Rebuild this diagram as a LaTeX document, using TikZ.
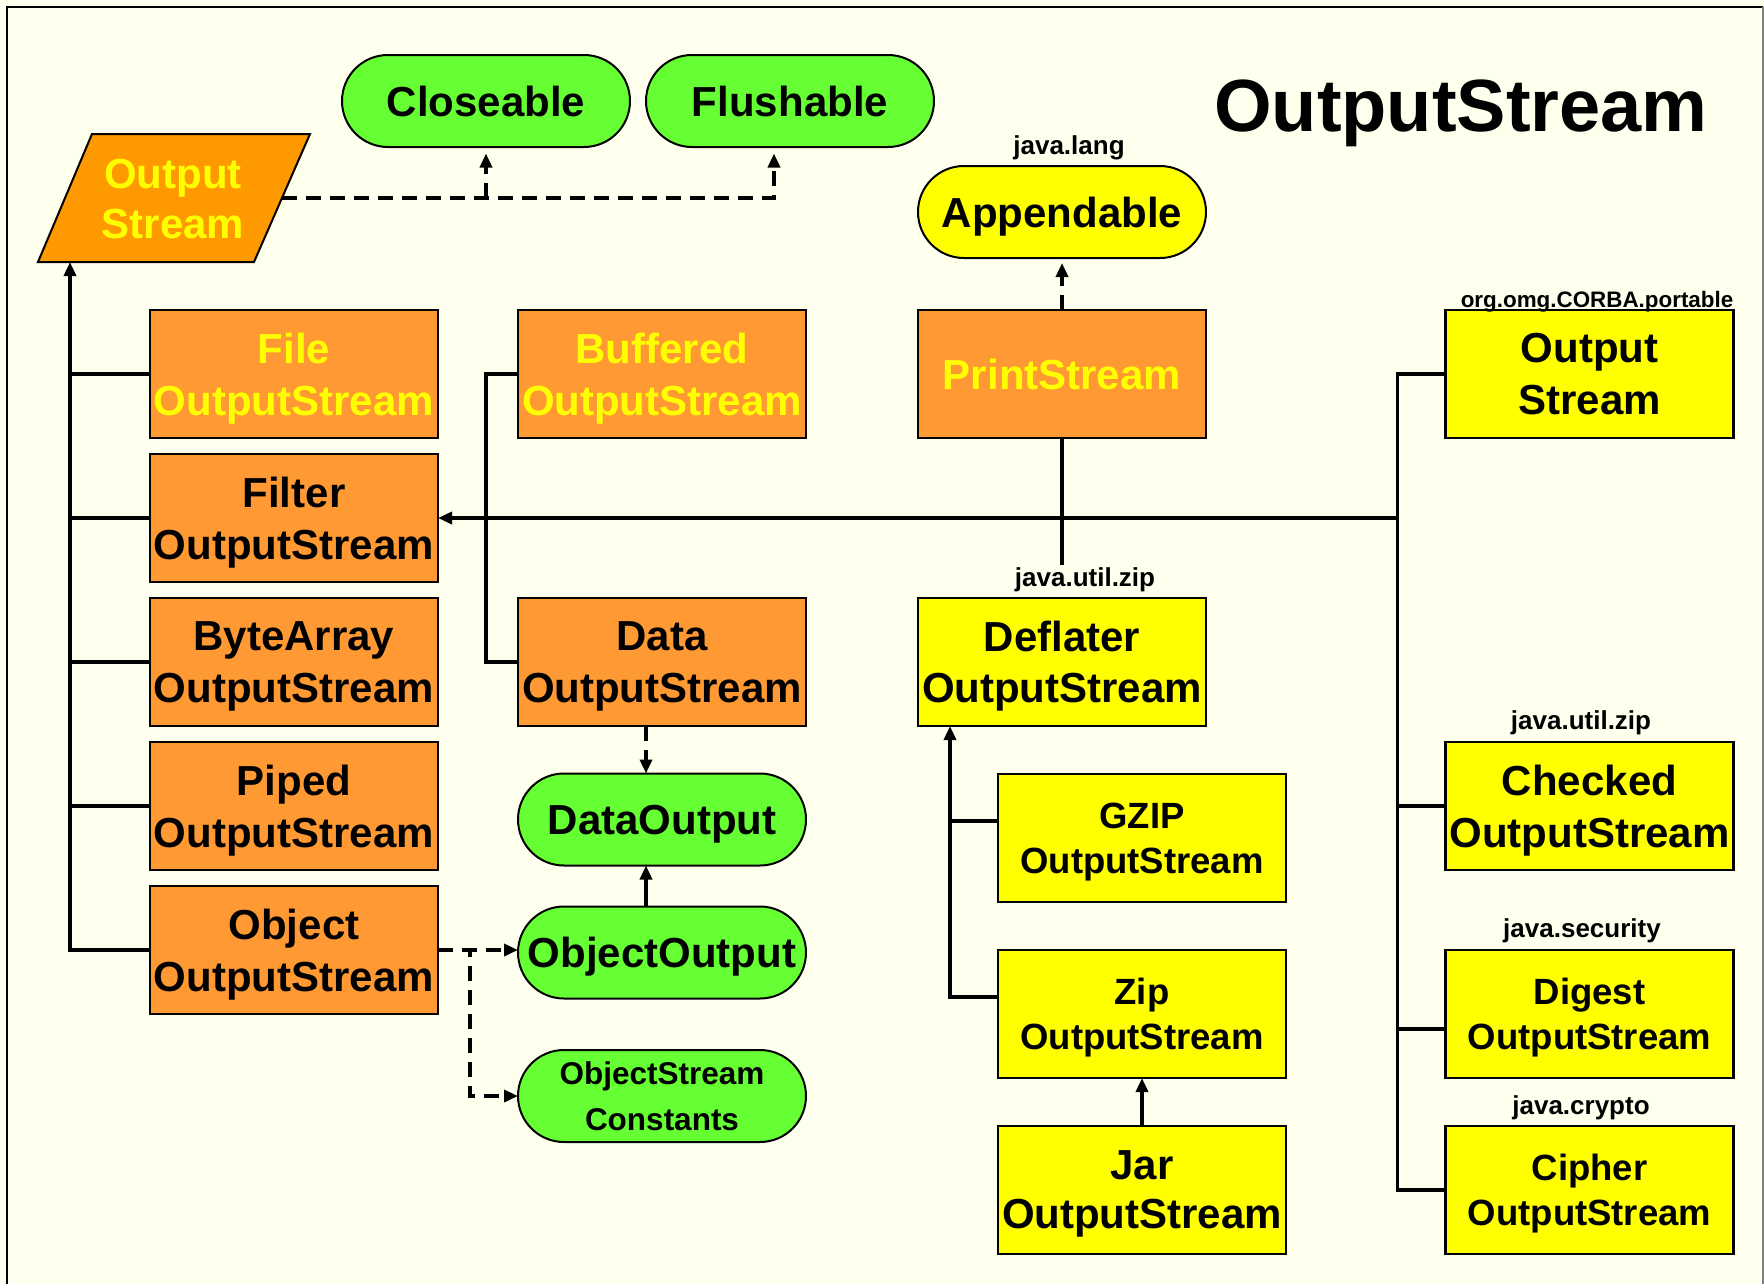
\documentclass[tikz,border=0pt]{standalone}
\usepackage{fontspec}
\setmainfont{Liberation Sans}
\usetikzlibrary{arrows.meta,calc}

\definecolor{bgcream}{RGB}{255,255,238}
\definecolor{ifgreen}{RGB}{102,255,51}
\definecolor{basefill}{RGB}{255,153,0}
\definecolor{orangefill}{RGB}{255,153,51}
\definecolor{yellowfill}{RGB}{255,255,0}

\tikzset{
  every node/.style={inner sep=0pt, outer sep=0pt},
  cls/.style={draw=black, line width=2.5pt, minimum width=288pt,
    minimum height=128pt, align=center, text depth=0pt,
    font=\bfseries\fontsize{42}{52}\selectfont},
  orangecls/.style={cls, fill=orangefill},
  yellowcls/.style={cls, fill=yellowfill},
  smalltext/.style={font=\bfseries\fontsize{36.5}{45}\selectfont},
  iface/.style={draw=black, line width=2pt, fill=ifgreen,
    rounded corners=46pt, minimum width=288pt, minimum height=92pt,
    align=center, text depth=0pt, font=\bfseries\fontsize{42}{52}\selectfont},
  pkg/.style={font=\bfseries\fontsize{26}{30}\selectfont},
  link/.style={line width=3.5pt},
  arr/.style={link, -{Triangle[length=14pt,width=12pt]}},
  dashlink/.style={line width=3.5pt, dash pattern=on 15pt off 9pt},
  dasharr/.style={dashlink, -{Triangle[length=14pt,width=12pt]}},
}

\begin{document}
\begin{tikzpicture}[x=1pt,y=-1pt]
\useasboundingbox (0,0) rectangle (1764,1283);
\fill[bgcream] (0,0) rectangle (1764,1283);
% page frame
\draw[line width=2.5pt] (7,1295) -- (7,7) -- (1763,7);
\draw[gray, line width=1.2pt] (1763,7) -- (1763,1295);

% title
\node[anchor=base, font=\bfseries\fontsize{74}{80}\selectfont] (title) at (1461,131) {OutputStream};

% abstract base class
\draw[line width=2pt, fill=basefill] (92,134) -- (310,134) -- (254,262) -- (38,262) -- cycle;
\node[align=center, text=yellowfill, font=\bfseries\fontsize{42}{50}\selectfont] (os) at (173,199) {Output\\Stream};
\coordinate (osbot) at (70,262);
\coordinate (osright) at (282,198);

% interfaces
\node[iface] (closeable) at (486,101) {Closeable};
\node[iface] (flushable) at (790,101) {Flushable};
\node[iface, fill=yellowfill] (appendable) at (1062,212) {Appendable};
\node[pkg] (pkglang) at (1069,148) {java.lang};

% direct subclasses
\node[orangecls, text=yellowfill] (file) at (294,374) {File\\OutputStream};
\node[orangecls] (filter) at (294,518) {Filter\\OutputStream};
\node[orangecls] (bytearray) at (294,662) {ByteArray\\OutputStream};
\node[orangecls] (piped) at (294,806) {Piped\\OutputStream};
\node[orangecls] (object) at (294,950) {Object\\OutputStream};

% filter subclasses in java.io
\node[orangecls, text=yellowfill] (buffered) at (662,374) {Buffered\\OutputStream};
\node[orangecls] (data) at (662,662) {Data\\OutputStream};
\node[orangecls, text=yellowfill] (print) at (1062,374) {PrintStream};

% data interfaces
\node[iface] (dataout) at (662,819.5) {DataOutput};
\node[iface] (objout) at (662,952.5) {ObjectOutput};
\node[iface, font=\bfseries\fontsize{31.5}{46}\selectfont] (osc) at (662,1096) {ObjectStream\\Constants};

% java.util.zip family
\node[yellowcls, font=\bfseries\fontsize{42}{51}\selectfont] (deflater) at (1062,662) {Deflater\\OutputStream};
\node[pkg] (pkgzipa) at (1085,580) {java.util.zip};
\node[yellowcls, smalltext] (gzip) at (1142,838) {GZIP\\OutputStream};
\node[yellowcls, smalltext] (zip) at (1142,1014) {Zip\\OutputStream};
\node[yellowcls, font=\bfseries\fontsize{42}{49}\selectfont] (jar) at (1142,1190) {Jar\\OutputStream};

% other packages
\node[yellowcls] (corba) at (1589.5,374) {Output\\Stream};
\node[font=\bfseries\fontsize{22.4}{26}\selectfont] (pkgcorba) at (1597,302) {org.omg.CORBA.portable};
\node[yellowcls] (checked) at (1589.5,806) {Checked\\OutputStream};
\node[pkg] (pkgzipb) at (1581,723) {java.util.zip};
\node[yellowcls, smalltext] (digest) at (1589.5,1014) {Digest\\OutputStream};
\node[pkg] (pkgsec) at (1582,931) {java.security};
\node[yellowcls, smalltext] (cipher) at (1589.5,1190) {Cipher\\OutputStream};
\node[pkg] (pkgcrypto) at (1581,1108) {java.crypto};

% OutputStream implements Closeable, Flushable
\draw[dasharr] (osright) -| ($(flushable.south)+(-16,6.5)$);
\draw[dasharr] (closeable.south |- osright) -- ($(closeable.south)+(0,6.5)$);

% left trunk to OutputStream
\draw[arr] (object.west) -| (osbot);
\foreach \n in {file,filter,bytearray,piped}
  \draw[link] (\n.west) -- (\n.west -| osbot);

% right trunk and the long line to FilterOutputStream
\draw[link] (corba.west) -- ++(-48,0) coordinate (rtop) |- (cipher.west);
\draw[link] (checked.west) -- ++(-48,0);
\draw[link] ($(digest.west)+(0,15)$) -- ++(-48,0);
\coordinate (hub) at (rtop |- filter.east);
\draw[arr, line width=4pt] (hub) -- (filter.east);

% Buffered and Data join the filter line
\draw[link] (buffered.west) -- ++(-32,0) |- (data.west);

% PrintStream
\draw[link] (print.south) -- ++(0,127);
\draw[dasharr] (print.north) -- ($(appendable.south)+(0,5)$);

% DataOutput links
\draw[dasharr] ($(data.south)+(-16,0)$) -- ($(dataout.north)+(-16,0)$);
\draw[arr] ($(objout.north)+(-16,0)$) -- ($(dataout.south)+(-16,0)$);

% ObjectOutputStream implements ObjectOutput, ObjectStreamConstants
\draw[dasharr] (object.east) -- (object.east -| objout.west);
\draw[dasharr] (object.east) -- ++(32,0) |- (osc.west);

% Deflater subclasses
\coordinate (dtip) at ($(deflater.south)+(-112,0)$);
\draw[arr] ($(zip.west)+(0,-17)$) -| (dtip);
\draw[link] ($(gzip.west)+(0,-17)$) -- ++(-48,0);
\draw[arr] (jar.north) -- (zip.south);
\end{tikzpicture}
\end{document}
